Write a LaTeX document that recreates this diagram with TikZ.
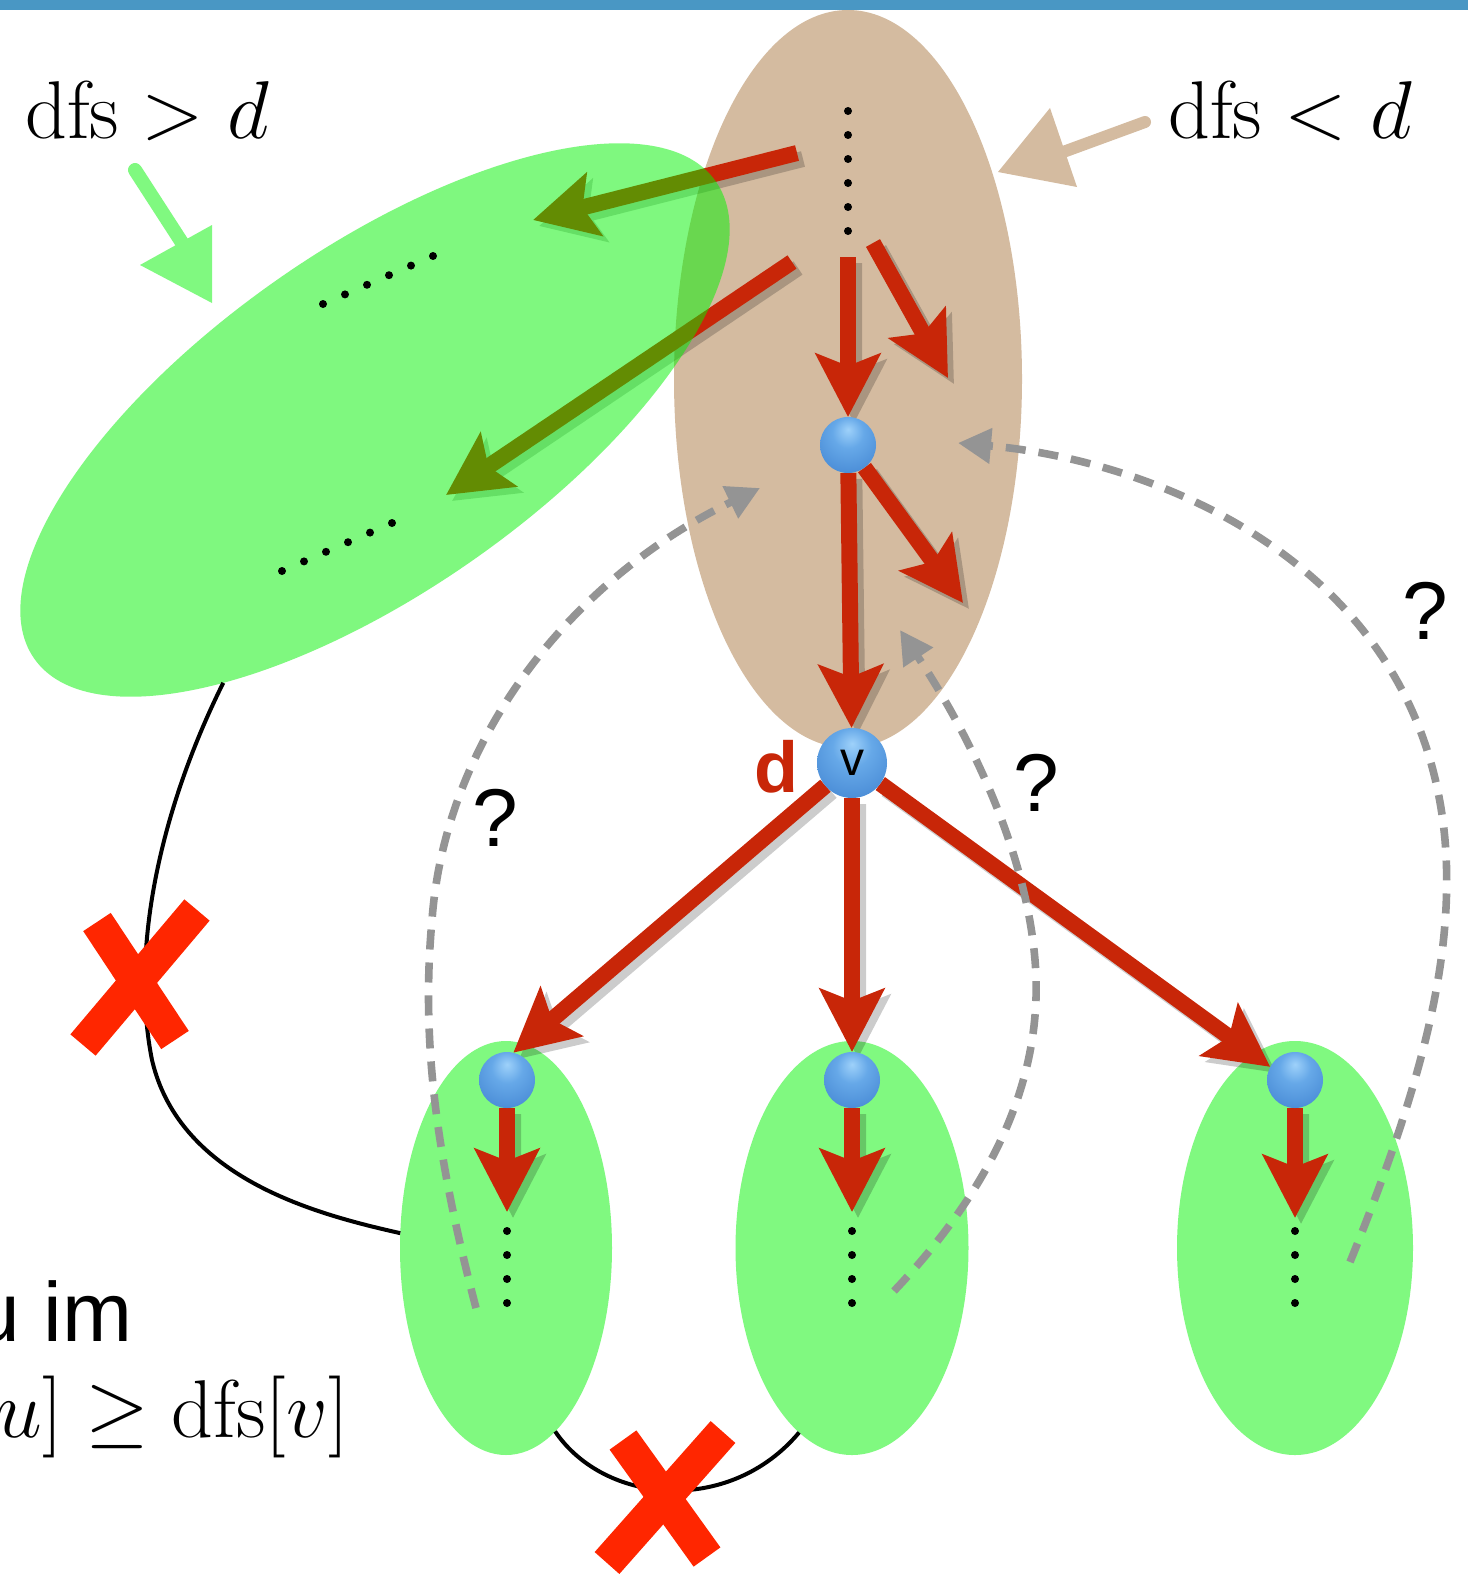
\RequirePackage{fix-cm}
\documentclass[tikz,border=0pt]{standalone}
\usepackage{fontspec}
\newfontfamily\hv{Liberation Sans}
\usetikzlibrary{arrows.meta,shapes.geometric}
\pgfdeclarelayer{bg}
\pgfdeclarelayer{fg}
\pgfsetlayers{bg,main,fg}
\definecolor{barblue}{RGB}{73,151,196}
\definecolor{tanc}{RGB}{212,187,160}
\definecolor{lgreen}{RGB}{128,249,128}
\definecolor{pgreen}{RGB}{0,243,0}
\definecolor{arrred}{RGB}{200,38,8}
\definecolor{xred}{RGB}{255,38,0}
\definecolor{dgray}{RGB}{148,148,148}
\pgfdeclareradialshading{blueball}{\pgfpoint{0bp}{14bp}}{%
 rgb(0bp)=(0.62,0.82,0.98);
 rgb(14bp)=(0.40,0.66,0.91);
 rgb(34bp)=(0.29,0.55,0.84);
 rgb(52bp)=(0.25,0.49,0.78);
 rgb(60bp)=(0.16,0.33,0.58);
 rgb(70bp)=(0.13,0.27,0.50)}
\newcommand\myarrows[1]{%
 \draw[#1] (a1s) -- (a1e);
 \draw[#1] (a2s) -- (a2e);
 \draw[#1] (a3s) -- (t);
 \draw[#1] (a4s) -- (a4e);
 \draw[#1] (t) -- (a5e);
 \draw[#1] (t) -- (v);
 \draw[#1] (v) -- (b1.77);
 \draw[#1] (v) -- (b2);
 \draw[#1] (v) -- (b3.152);
 \draw[#1] (b1) -- (d1e);
 \draw[#1] (b2) -- (d2e);
 \draw[#1] (b3) -- (d3e);}
\begin{document}
\begin{tikzpicture}[x=0.5pt,y=-0.5pt,
  rarrow/.style={draw=arrred,line width=8pt,-{Stealth[length=31.5pt,width=32pt,inset=6pt]}},
  rshadow/.style={draw=black,line width=8pt,-{Stealth[length=31.5pt,width=32pt,inset=6pt]}},
  ballnode/.style={circle,inner sep=0pt,outer sep=0pt,minimum size=28pt,shading=blueball},
  dashc/.style={draw=dgray,line width=3.8pt,dash pattern=on 10pt off 6.5pt,-{Triangle[length=16.5pt,width=17pt]}},
  blob/.style={ellipse,inner sep=0pt,outer sep=0pt},
  qmark/.style={font=\hv\fontsize{41}{49}\selectfont},
  xmark/.style={draw=xred,line width=16.5pt},
  curve/.style={draw=black,line width=2pt},
  mlabel/.style={font=\fontsize{41}{49}\selectfont,inner sep=0pt}
]
\useasboundingbox (0,0) rectangle (1468,1584);
\begin{pgfonlayer}{bg}
\fill[white] (0,0) rectangle (1468,1584);
\node[blob,fill=tanc,minimum width=174pt,minimum height=369pt] (B) at (848,379) {};
\node[blob,fill=lgreen,minimum width=106pt,minimum height=207pt] (L) at (506,1248) {};
\node[blob,fill=lgreen,minimum width=116.5pt,minimum height=207pt] (M) at (852,1248) {};
\node[blob,fill=lgreen,minimum width=118pt,minimum height=207pt] (R) at (1295,1248) {};
\end{pgfonlayer}
\begin{pgfonlayer}{fg}
\fill[barblue] (0,0) rectangle (1468,10);
\node[ballnode] (t) at (848,445) {};
\node[ballnode,minimum size=35pt,font=\hv\fontsize{24}{28}\selectfont] (v) at (852,763) {v};
\node[ballnode] (b1) at (507,1080) {};
\node[ballnode] (b2) at (852,1080) {};
\node[ballnode] (b3) at (1295,1080) {};
\end{pgfonlayer}
\coordinate (a1s) at (797,153); \coordinate (a1e) at (533,220);
\coordinate (a2s) at (792,262); \coordinate (a2e) at (446,495);
\coordinate (a3s) at (848,257);
\coordinate (a4s) at (873,243); \coordinate (a4e) at (948,378);
\coordinate (a5e) at (963,603);
\coordinate (d1e) at (507,1212);
\coordinate (d2e) at (852,1212);
\coordinate (d3e) at (1295,1218);
\begin{scope}[transparency group,opacity=0.2,transform canvas={shift={(3pt,-3pt)}}]
\myarrows{rshadow}
\end{scope}
\myarrows{rarrow}
\node[blob,rotate=35,fill=pgreen,fill opacity=0.5,minimum width=416pt,minimum height=171pt] (G) at (375,420) {};
\draw[curve] (G.205) .. controls (160,810) and (130,950) .. (152,1060) .. controls (180,1180) and (320,1215) .. (L.172);
\draw[curve] (L.-75) .. controls (605,1505) and (730,1515) .. (M.-106);
\foreach \y in {111,135,...,231} \fill (848,\y) circle[radius=4];
\foreach \i in {0,...,5} \fill ({323+22*\i},{304-9.6*\i}) circle[radius=4];
\foreach \i in {0,...,5} \fill ({282+22*\i},{571-9.6*\i}) circle[radius=4];
\foreach \x in {507,852,1295} \foreach \y in {1231,1255,1279,1303} \fill (\x,\y) circle[radius=4];
\coordinate (qa0) at (476,1308); \coordinate (qa1) at (760,488);
\draw[dashc] (qa0) .. controls (440,1170) and (420,1050) .. (432,920) .. controls (445,740) and (570,580) .. (qa1);
\coordinate (qb0) at (894,1291); \coordinate (qb1) at (900,630);
\draw[dashc] (qb0) .. controls (990,1190) and (1045,1080) .. (1035,960) .. controls (1025,840) and (960,720) .. (qb1);
\coordinate (qc0) at (1350,1262); \coordinate (qc1) at (958,443);
\draw[dashc] (qc0) .. controls (1420,1090) and (1455,960) .. (1445,840) .. controls (1420,560) and (1150,460) .. (qc1);
\node[qmark] (q1) at (495,818) {?};
\node[qmark] (q2) at (1036,783) {?};
\node[qmark] (q3) at (1425,611) {?};
\fill[tanc] (998,172) -- (1050,108) -- (1077,187) -- cycle;
\draw[tanc,line width=6pt,line cap=round] (1055,155) -- (1145,122);
\fill[lgreen] (212,303) -- (140,265) -- (212,225) -- cycle;
\draw[lgreen,line width=7pt,line cap=round] (135,170) -- (188,252);
\node[mlabel,anchor=base] (lg) at (147,139) {$\mathrm{dfs} > d$};
\node[mlabel,anchor=base] (lb) at (1290,139) {$\mathrm{dfs} < d$};
\begin{scope}
\clip (0,0) rectangle (1468,1584);
\node[anchor=base east,inner sep=0pt,font=\hv\fontsize{42}{50}\selectfont] (t1) at (133,1341) {u im};
\node[mlabel,anchor=base east] (t2) at (349,1437) {$u] \geq \mathrm{dfs}[v]$};
\end{scope}
\begin{pgfonlayer}{fg}
\node[font=\hv\bfseries\fontsize{36}{42}\selectfont,text=arrred,anchor=base] (dl) at (776,792) {d};
\draw[xmark] (97,922) -- (175,1040);
\draw[xmark] (197,910) -- (83,1045);
\draw[xmark] (623,1440) -- (707,1557);
\draw[xmark] (723,1432) -- (607,1563);
\end{pgfonlayer}
\end{tikzpicture}
\end{document}
